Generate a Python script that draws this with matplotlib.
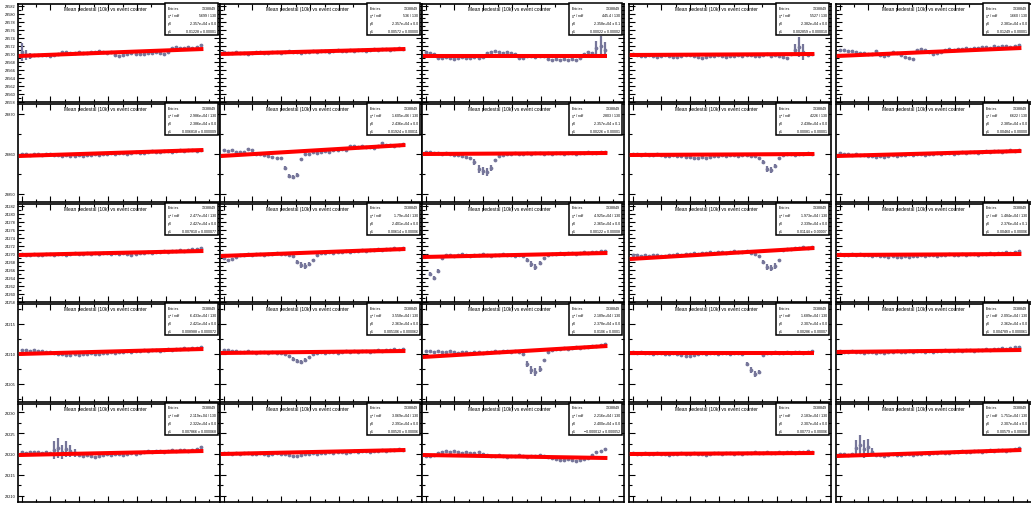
import numpy as np
import matplotlib.pyplot as plt
from matplotlib.patches import Rectangle
from matplotlib.ticker import MultipleLocator

plt.rcParams['font.family'] = ['Liberation Sans', 'DejaVu Sans']

W, H = 1031, 506

# event counter of the plotted bins (same for every channel)
n_pts = 45
counter = 28200.0 * np.arange(n_pts)
fit_range = [-20000, 1.26e6]
x_lim = (-25000, 1.375e6)

title = 'Mean pedestal (10k) vs event counter'
entries = 1338849

# y axis per row: ADC per offset unit, label step
row_unit = [0.25, 0.25, 0.25, 1 / 6, 0.24]
row_step = [2, 10, 2, 5, 5]

# mean pedestal per bin, as offset from p0 (48 = p0)
r1c1 = [50,47,46,47,47,47,47,46,47,48, 50,50,49,49,50,49,49,50,50,51, 50,49,50,47,46,47,48,49,48,48, 48,49,49,50,49,48,50,54,55,54, 54,55,54,55,57]
r1c2 = [50,49,49,50,49,49,48,49,50,50, 49,49,50,50,49,50,51,50,50,49, 50,50,51,50,51,51,50,51,52,51, 51,52,51,52,52,51,52,53,52,53, 53,52,53,54,53]
r1c3 = [50,49,48,44,44,45,44,43,44,45, 44,44,45,44,45,49,50,51,50,49, 50,49,48,44,44,46,46,45,46,46, 43,42,43,42,43,42,43,42,44,48, 50,49,54,56,52]
r1c4 = [48,47,46,46,47,46,45,46,47,46, 45,45,46,47,47,46,45,44,45,46, 46,47,46,45,46,46,47,46,47,47, 46,46,47,48,46,47,46,45,44,48, 52,55,50,47,48]
r1c5 = [52,52,51,51,50,49,49,48,48,51, 47,46,47,50,49,47,45,44,43,52, 53,52,50,48,49,50,52,53,52,53, 53,54,53,54,54,55,55,54,56,55, 56,56,55,56,57]

r2c1 = [48,48,47,48,48,47,48,48,47,47, 46,47,46,46,47,46,47,47,48,47, 48,48,49,48,49,49,48,49,50,49, 49,50,51,50,50,51,51,50,51,52, 51,52,52,51,52]
r2c2 = [52,51,52,50,50,50,53,52,48,48, 47,46,45,44,44,34,26,25,27,43, 48,48,50,49,50,51,50,52,52,53, 52,56,56,55,56,55,55,54,56,59, 57,57,56,57,58]
r2c3 = [50,50,49,49,48,49,48,47,47,46, 45,44,40,33,31,30,34,42,46,47, 48,48,49,48,48,49,48,49,49,48, 49,48,49,49,48,49,49,48,49,49, 50,49,49,50,50]
r2c4 = [48,48,47,48,47,47,48,47,46,46, 47,46,46,45,45,44,44,45,44,45, 46,46,47,46,47,47,46,47,47,46, 46,44,40,33,32,36,44,47,48,48, 47,48,48,49,48]
r2c5 = [49,48,48,47,48,47,47,46,46,45, 46,45,46,47,46,47,47,48,47,48, 48,47,48,48,49,48,49,49,48,49, 50,49,50,50,49,50,51,50,51,51, 50,51,52,51,52]

r3c1 = [48,47,47,48,47,47,48,48,47,48, 48,47,48,49,48,48,49,48,49,48, 49,49,48,49,48,49,48,47,48,49, 49,50,49,50,50,51,50,51,51,52, 51,52,53,53,54]
r3c2 = [44,42,43,45,47,47,48,47,48,48, 47,48,48,49,48,48,47,46,40,37, 36,38,42,47,49,49,50,49,50,50, 51,50,51,51,52,51,52,52,53,52, 53,53,54,53,54]
r3c3 = [46,28,24,31,44,47,47,46,47,48, 47,46,47,47,48,47,46,47,47,48, 47,47,46,47,46,42,38,35,39,44, 47,48,48,49,48,49,49,48,49,50, 49,50,50,51,51]
r3c4 = [47,47,46,47,46,47,47,46,46,47, 47,48,47,48,48,49,48,49,49,50, 49,50,50,49,50,51,50,50,51,49, 48,46,40,35,34,36,42,52,53,53, 54,54,55,54,55]
r3c5 = [48,47,47,48,47,48,47,47,46,47, 46,46,45,46,45,45,46,45,46,46, 47,46,47,47,46,47,47,48,47,47, 48,47,48,48,47,48,48,49,48,49, 49,50,49,50,51]

r4c1 = [52,52,51,52,51,51,50,50,49,48, 48,47,47,48,47,48,48,49,48,48, 49,49,50,49,50,50,51,50,51,51, 52,51,52,52,51,52,53,52,53,53, 54,53,54,54,55]
r4c2 = [52,52,51,51,50,50,51,50,49,50, 50,49,50,49,49,48,46,43,41,40, 42,45,48,49,50,49,50,50,49,50, 51,50,51,50,51,51,50,51,52,51, 52,52,53,52,53]
r4c3 = [51,51,50,51,50,50,51,50,49,50, 50,49,50,50,49,50,50,51,50,51, 51,50,51,50,48,38,32,30,33,42, 50,52,53,53,54,53,54,55,54,55, 55,56,56,57,58]
r4c4 = [50,49,50,49,49,48,49,49,48,48, 49,48,47,46,46,47,48,49,48,49, 49,48,49,49,48,49,49,48,38,32, 28,30,47,49,49,50,49,49,50,49, 50,50,49,50,51]
r4c5 = [51,50,50,51,50,50,49,50,50,49, 50,49,50,50,51,50,50,51,50,51, 51,50,51,50,51,51,52,51,51,52, 51,52,52,51,52,52,53,52,53,53, 54,53,54,55,55]

r5c1 = [50,49,50,50,50,49,50,49,52,54, 50,53,51,49,47,46,47,46,45,46, 47,48,47,48,48,47,48,49,48,49, 50,51,50,51,51,50,51,52,51,52, 52,51,52,53,55]
r5c2 = [49,49,48,49,48,49,49,48,48,49, 48,47,48,49,48,48,47,46,46,47, 48,48,49,48,49,49,50,49,50,50, 49,50,51,50,51,51,50,51,51,52, 51,52,52,53,52]
r5c3 = [46,46,47,49,50,51,50,51,50,49, 50,49,49,50,48,47,46,46,47,46, 45,46,46,47,46,45,46,46,47,46, 45,44,43,42,42,43,42,41,42,43, 44,47,50,51,53]
r5c4 = [49,48,48,49,48,48,49,48,48,47, 48,48,49,48,48,49,48,48,47,48, 49,49,48,49,49,48,49,48,49,49, 50,49,49,50,49,49,50,49,50,50, 49,50,50,51,50]
r5c5 = [48,48,47,48,54,57,53,55,50,47, 47,46,47,48,47,47,48,48,47,48, 48,49,48,49,49,50,49,49,50,50, 51,50,50,51,51,50,51,52,51,52, 52,51,52,53,54]

# bins with large errors (index: error, same offset units); others are 1
big_err = {
    (0, 0): {0: 9, 1: 5, 2: 3},
    (0, 2): {42: 7, 43: 10, 44: 8},
    (0, 3): {40: 6, 41: 10, 42: 8},
    (1, 1): {15: 2, 16: 2, 17: 2, 18: 2},
    (1, 2): {12: 3, 13: 4, 14: 4, 15: 4, 16: 3},
    (1, 3): {32: 2, 33: 3, 34: 3, 35: 2},
    (2, 1): {18: 2, 19: 3, 20: 3, 21: 2},
    (2, 2): {1: 2, 2: 2, 3: 2, 25: 2, 26: 3, 27: 3, 28: 2},
    (2, 3): {32: 2, 33: 3, 34: 3, 35: 3},
    (3, 1): {17: 2, 18: 2, 19: 2, 20: 2},
    (3, 2): {25: 3, 26: 4, 27: 4, 28: 3},
    (3, 3): {28: 2, 29: 3, 30: 3, 31: 2},
    (4, 0): {8: 9, 9: 10, 10: 7, 11: 8, 12: 6, 13: 4},
    (4, 4): {4: 8, 5: 10, 6: 9, 7: 8, 8: 4},
}

# linear fit, offset at start / end of fit range
fit_ends = [[(46, 53), (48, 53), (46, 46), (47, 48), (46, 54)],
            [(46, 52), (46, 57), (48, 49), (47, 48), (46, 51)],
            [(47, 51), (46, 53), (45, 49), (43, 54), (47, 48)],
            [(48, 53), (49, 51), (45, 56), (49, 49), (50, 52)],
            [(47, 51), (48, 52), (47, 44), (48, 49), (46, 52)]]

p0 = [[23570, 23570, 23580, 23820, 23810],
      [23860, 24360, 23570, 24380, 23850],
      [24270, 24010, 23650, 23390, 23760],
      [24210, 23630, 23780, 23070, 23620],
      [23220, 23910, 24000, 23070, 23070]]
p0_err = [['0.0', '0.0', '0.1', '0.0', '0.0'],
          ['0.0', '0.0', '0.1', '0.0', '0.0'],
          ['0.0', '0.0', '0.0', '0.0', '0.1'],
          ['0.0', '0.0', '0.0', '0.0', '0.0'],
          ['0.0', '0.0', '0.0', '0.0', '0.0']]
chi2 = [['5699 / 130', '536 / 130', '445.4 / 130', '5527 / 130', '1660 / 130'],
        ['2.986e+04 / 130', '1.605e+06 / 130', '2803 / 130', '4226 / 130', '6622 / 130'],
        ['2.477e+04 / 130', '1.79e+04 / 130', '4.925e+04 / 130', '1.973e+04 / 130', '1.484e+04 / 130'],
        ['6.433e+04 / 130', '3.558e+04 / 130', '2.189e+04 / 130', '1.689e+04 / 130', '2.091e+04 / 130'],
        ['2.119e+04 / 130', '3.069e+04 / 130', '2.216e+04 / 130', '2.183e+04 / 130', '1.751e+04 / 130']]
p1 = [['0.01228 ± 0.00001', '0.00572 ± 0.00000', '0.00022 ± 0.00002', '0.002859 ± 0.000010', '0.01249 ± 0.00001'],
      ['0.006818 ± 0.000009', '0.01924 ± 0.00011', '0.00226 ± 0.00001', '0.00081 ± 0.00001', '0.00484 ± 0.00000'],
      ['0.007810 ± 0.000077', '0.00614 ± 0.00006', '0.00122 ± 0.00008', '0.01144 ± 0.00007', '0.00460 ± 0.00006'],
      ['0.008988 ± 0.000072', '0.005106 ± 0.000062', '0.0106 ± 0.0001', '0.00286 ± 0.00007', '0.004789 ± 0.000061'],
      ['0.007866 ± 0.000068', '0.00520 ± 0.00006', '\u22120.000012 ± 0.000052', '0.00773 ± 0.00006', '0.00579 ± 0.00006']]

panels = [[r1c1, r1c2, r1c3, r1c4, r1c5],
          [r2c1, r2c2, r2c3, r2c4, r2c5],
          [r3c1, r3c2, r3c3, r3c4, r3c5],
          [r4c1, r4c2, r4c3, r4c4, r4c5],
          [r5c1, r5c2, r5c3, r5c4, r5c5]]

# frame geometry in pixels
frame_left = [18, 220, 422, 629, 836]
frame_top = [5, 105, 205, 305, 405]
fw, fh = 202, 98

marker_col = '#76769a'

fig = plt.figure(figsize=(W / 100, H / 100), dpi=100)

def fx(px):
    return px / W

def fy(py):
    return 1 - py / H

for r in range(5):
    unit = row_unit[r]
    for c in range(5):
        L, T = frame_left[c], frame_top[r]
        ax = fig.add_axes([fx(L), fy(T + fh), fw / W, fh / H])
        base = p0[r][c]
        lo = base - 48 * unit
        y = base + unit * (np.array(panels[r][c], dtype=float) - 48)
        err = np.ones(n_pts)
        for i, e in big_err.get((r, c), {}).items():
            err[i] = e
        ax.errorbar(counter, y, yerr=err * unit, fmt='o', ms=2.7, mew=0,
                    color=marker_col, ecolor=marker_col, elinewidth=1.6,
                    capsize=0, zorder=2)
        a, b = fit_ends[r][c]
        ax.plot(fit_range, [base + unit * (a - 48), base + unit * (b - 48)],
                color='red', lw=2.9, solid_capstyle='butt', zorder=3)
        ax.set_xlim(*x_lim)
        ax.set_ylim(lo, lo + fh * unit)
        ax.xaxis.set_major_locator(MultipleLocator(0.2e6))
        ax.xaxis.set_minor_locator(MultipleLocator(0.1e6))
        ax.yaxis.set_major_locator(MultipleLocator(row_step[r]))
        ax.yaxis.set_minor_locator(MultipleLocator(row_step[r] / 2))
        ax.tick_params(which='both', direction='in', top=True, right=True,
                       labelbottom=False, labelleft=(c == 0), width=0.8,
                       labelsize=2.8, pad=1.5)
        ax.tick_params(which='major', length=4)
        ax.tick_params(which='minor', length=2)
        for s in ax.spines.values():
            s.set_linewidth(1.2)
        ax.ticklabel_format(axis='y', style='plain', useOffset=False)

        # title
        fig.text(fx(L + 87), fy(T + 5), title, ha='center', va='center',
                 fontsize=3.5)

        # stats box
        bl, bt = L + 147, T - 1
        br = min(bl + 53, 1029)
        bh = 32
        fig.add_artist(Rectangle((fx(bl), fy(bt + bh)), fx(br - bl), bh / H,
                                 transform=fig.transFigure, facecolor='white',
                                 edgecolor='black', lw=1.1, zorder=5))
        rows_txt = [('Entries', str(entries)),
                    ('\u03c7\u00b2 / ndf', chi2[r][c]),
                    ('p0', '%.3e \u00b1 %s' % (base, p0_err[r][c])),
                    ('p1', p1[r][c])]
        for k, (lab, val) in enumerate(rows_txt):
            yy = fy(bt + 4.5 + k * 7.8)
            fig.text(fx(bl + 3), yy, lab, ha='left', va='center',
                     fontsize=2.6, zorder=6)
            fig.text(fx(br - 2), yy, val, ha='right', va='center',
                     fontsize=2.6, zorder=6)

fig.savefig('out.png', dpi=100, facecolor='white')
